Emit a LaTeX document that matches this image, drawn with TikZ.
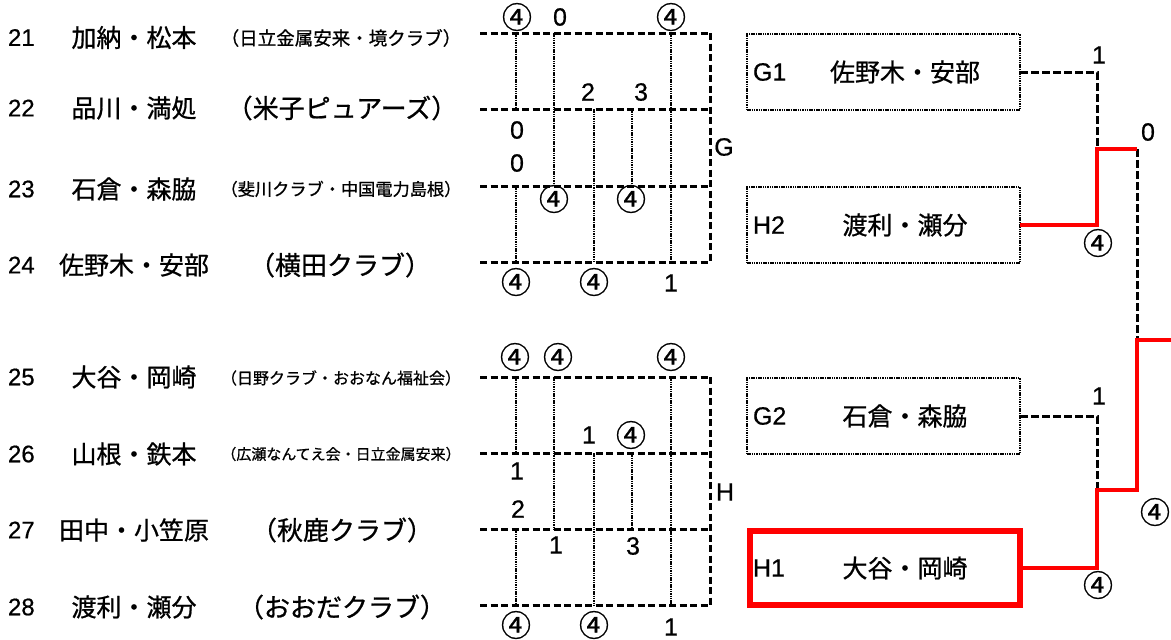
\documentclass[tikz,border=0pt]{standalone}
\usepackage{fontspec}
\setmainfont{Liberation Sans}[FakeBold=0.6]
\newfontfamily\jp{Noto Sans CJK JP}[FakeBold=0.8]
\usetikzlibrary{calc}
\begin{document}
\begin{tikzpicture}[x=1pt,y=-1pt,
  every node/.style={inner sep=0pt, outer sep=0pt},
  num/.style={anchor=west, font=\fontsize{24}{24}\selectfont},
  pname/.style={anchor=center, font=\jp\fontsize{25}{25}\selectfont},
  club/.style={anchor=center, font=\jp\fontsize{26}{26}\selectfont},
  score/.style={anchor=center, font=\fontsize{25}{25}\selectfont},
  circ/.style={anchor=center, font=\jp\fontsize{30}{30}\selectfont},
  gridline/.style={line width=3pt, dash pattern=on 7pt off 3.5pt},
  dotv/.style={line width=2.5pt, dash pattern=on 1.5pt off 0.8pt},
  seedbox/.style={draw, line width=2.5pt, dash pattern=on 1.5pt off 0.8pt, minimum width=273pt, minimum height=76pt},
  winbox/.style={draw=red, line width=5.5pt, minimum width=270pt, minimum height=74pt},
  bdash/.style={line width=3pt, dash pattern=on 8pt off 3pt},
  win/.style={draw=red, line width=4.5pt},
]
\useasboundingbox (0,0) rectangle (1171,640);

% ---------- entries ----------
\node[num] (n21) at (8,37.5) {21};
\node[pname] (p21) at (134,37.5) {加納・松本};
\node[club, font=\jp\fontsize{18.5}{18.5}\selectfont] (c21) at (341,38) {（日立金属安来・境クラブ）};

\node[num] (n22) at (8,108) {22};
\node[pname] (p22) at (134,108) {品川・満処};
\node[club] (c22) at (342,108) {（米子ピュアーズ）};

\node[num] (n23) at (8,189) {23};
\node[pname] (p23) at (134,189) {石倉・森脇};
\node[club, font=\jp\fontsize{17.2}{17.2}\selectfont] (c23) at (341,189) {（斐川クラブ・中国電力島根）};

\node[num] (n24) at (8,265) {24};
\node[pname] (p24) at (134,265) {佐野木・安部};
\node[club] (c24) at (340,265) {（横田クラブ）};

\node[num] (n25) at (8,377) {25};
\node[pname] (p25) at (134,377) {大谷・岡崎};
\node[club, font=\jp\fontsize{16}{16}\selectfont] (c25) at (341,378) {（日野クラブ・おおなん福祉会）};

\node[num] (n26) at (8,454) {26};
\node[pname] (p26) at (134,454) {山根・鉄本};
\node[club, font=\jp\fontsize{15}{15}\selectfont] (c26) at (341,454) {（広瀬なんてえ会・日立金属安来）};

\node[num] (n27) at (8,530) {27};
\node[pname] (p27) at (134,530) {田中・小笠原};
\node[club] (c27) at (342,530) {（秋鹿クラブ）};

\node[num] (n28) at (8,607) {28};
\node[pname] (p28) at (134,607) {渡利・瀬分};
\node[club] (c28) at (342,607) {（おおだクラブ）};

% ---------- league grids ----------
\foreach \i/\yy in {1/33,2/109,3/186,4/262}{
  \coordinate (gL\i) at (480,\yy); \coordinate (gR\i) at (710,\yy);}
\foreach \i/\yy in {1/377,2/453,3/529,4/605}{
  \coordinate (hL\i) at (480,\yy); \coordinate (hR\i) at (710,\yy);}
\foreach \j/\xx in {1/516,2/554,3/594,4/632,5/671}
  \coordinate (c\j) at (\xx,0);

\foreach \p in {g,h}{
  \draw[dotv] (\p L1 -| c1) -- (\p L2 -| c1);
  \draw[dotv] (\p L3 -| c1) -- (\p L4 -| c1);
  \draw[dotv] (\p L1 -| c2) -- (\p L3 -| c2);
  \draw[dotv] (\p L2 -| c3) -- (\p L4 -| c3);
  \draw[dotv] (\p L2 -| c4) -- (\p L3 -| c4);
  \draw[dotv] (\p L1 -| c5) -- (\p L4 -| c5);
  \foreach \i in {1,...,4} \draw[gridline] (\p L\i) -- (\p R\i);
  \draw[gridline] (\p R1) -- (\p R4);
}

% group G scores
\node[circ]  (gs1) at (517,17) {④};
\node[score] (gs2) at (560,17) {0};
\node[circ]  (gs3) at (671,17) {④};
\node[score] (gs4) at (588,92) {2};
\node[score] (gs5) at (641,92) {3};
\node[score] (gs6) at (517,130) {0};
\node[score] (gs7) at (517,163) {0};
\node[circ]  (gs8) at (554,199) {④};
\node[circ]  (gs9) at (631,199) {④};
\node[circ]  (gs10) at (516,282) {④};
\node[circ]  (gs11) at (594,282) {④};
\node[score] (gs12) at (671,283) {1};
\node[score] (gG) at (724,147) {G};

% group H scores
\node[circ]  (hs1) at (515,357) {④};
\node[circ]  (hs2) at (558,357) {④};
\node[circ]  (hs3) at (671,357) {④};
\node[score] (hs4) at (589,435) {1};
\node[circ]  (hs5) at (631,435) {④};
\node[score] (hs6) at (517,471) {1};
\node[score] (hs7) at (518,509) {2};
\node[score] (hs8) at (556,545) {1};
\node[score] (hs9) at (633,546) {3};
\node[circ]  (hs10) at (516,625) {④};
\node[circ]  (hs11) at (594,625) {④};
\node[score] (hs12) at (671,627) {1};
\node[score] (hH) at (725,492) {H};

% ---------- final boxes ----------
\node[seedbox] (G1) at (883.5,72) {};
\node[score, anchor=west] (G1a) at ([xshift=6pt]G1.west) {G1};
\node[pname] (G1b) at ([xshift=21.5pt]G1.center) {佐野木・安部};

\node[seedbox] (H2) at (883.5,225) {};
\node[score, anchor=west] (H2a) at ([xshift=6pt]H2.west) {H2};
\node[pname] (H2b) at ([xshift=21.5pt]H2.center) {渡利・瀬分};

\node[seedbox] (G2) at (883.5,416) {};
\node[score, anchor=west] (G2a) at ([xshift=6pt]G2.west) {G2};
\node[pname] (G2b) at ([xshift=21.5pt]G2.center) {石倉・森脇};

\node[winbox] (H1) at (885,568) {};
\node[score, anchor=west] (H1a) at (753,568) {H1};
\node[pname] (H1b) at (905,568) {大谷・岡崎};

% ---------- bracket ----------
\coordinate (j1) at (1097,149);
\coordinate (f1) at (1137,149);
\coordinate (j2) at (1097,490);
\coordinate (k2) at (1137,490);
\coordinate (f2) at (1137,340);
\coordinate (fin) at (1171,340);

\draw[bdash] (G1.east) -| (j1);
\draw[bdash] (f1) -- (f2);
\draw[bdash] (G2.east) -| (j2);
\draw[win] (H2.east) -| (j1) -- (f1);
\draw[win] (H1.east) -| (j2) -- (k2) -- (f2) -- (fin);

\node[score] (b1) at (1099,55) {1};
\node[score] (b2) at (1148,132) {0};
\node[circ]  (b3) at (1098,243) {④};
\node[score] (b4) at (1099,396) {1};
\node[circ]  (b5) at (1098,585) {④};
\node[circ]  (b6) at (1155,512) {④};
\end{tikzpicture}
\end{document}
